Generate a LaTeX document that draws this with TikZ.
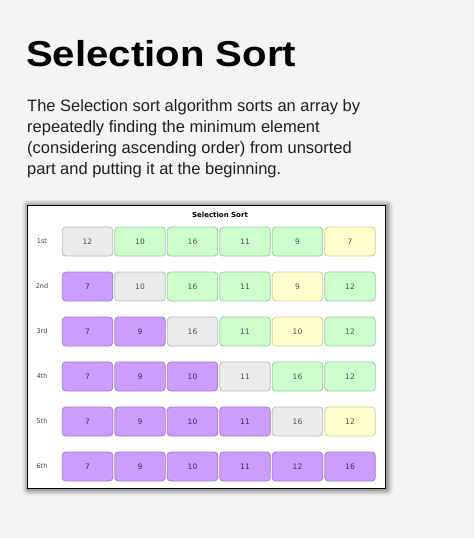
\documentclass[tikz,border=0pt]{standalone}
\usepackage{fontspec}
\setmainfont{Liberation Sans}
\newfontfamily\cellfont{DejaVu Sans}
\usetikzlibrary{shadows}
\definecolor{bgc}{HTML}{F4F4F4}
\definecolor{grayf}{HTML}{EBEBEB}
\definecolor{grayd}{HTML}{B4BCBC}
\definecolor{greenf}{HTML}{CCFFCC}
\definecolor{greend}{HTML}{9CC8A4}
\definecolor{yellf}{HTML}{FFFFCC}
\definecolor{yelld}{HTML}{CFCFA4}
\definecolor{purpf}{HTML}{CC9CFF}
\definecolor{purpd}{HTML}{A07CCC}
\definecolor{celltext}{HTML}{505050}
\tikzset{
  cellbox/.style={rounded corners=3.5pt, minimum width=50.5pt, minimum height=29pt, inner sep=0pt, line width=0.8pt, font=\cellfont\fontsize{7.5}{8}\selectfont, text=celltext},
  cg/.style={cellbox, fill=grayf, draw=grayd},
  cG/.style={cellbox, fill=greenf, draw=greend},
  cY/.style={cellbox, fill=yellf, draw=yelld},
  cP/.style={cellbox, fill=purpf, draw=purpd, text=black!65!purpd},
  rowlab/.style={font=\cellfont\fontsize{6.5}{8}\selectfont, text=black!75},
}
\begin{document}
\begin{tikzpicture}[x=1pt,y=-1pt]
\useasboundingbox (0,0) rectangle (474,538);
\fill[bgc] (0,0) rectangle (474,538);
\node[anchor=base west, inner sep=0pt, font=\bfseries\fontsize{36}{40}\selectfont] (title) at (26,66) {\scalebox{1.115}[1]{Selection Sort}};
\node[anchor=north west, inner sep=0pt, align=left, font=\fontsize{16.5}{21}\selectfont, text=black!88] (para) at (27,99)
 {The Selection sort algorithm sorts an array by\\repeatedly finding the minimum element\\(considering ascending order) from unsorted\\part and putting it at the beginning.};
\foreach \k/\op in {6/0.05,4.5/0.07,3/0.1,1.5/0.15}
  \fill[black, opacity=\op, rounded corners=\k pt] ({27+1-\k},{204.5+1-\k}) rectangle ({385+2+\k},{487.5+2+\k});
\node[draw=black, line width=1.4pt, fill=white, minimum width=358pt, minimum height=283pt, inner sep=0pt, anchor=north west] (frame) at (27,204.5) {};
\node[font=\cellfont\bfseries\fontsize{7}{8}\selectfont] (ftitle) at (220,215) {Selection Sort};
\foreach \r/\lab in {1/1st,2/2nd,3/3rd,4/4th,5/5th,6/6th}
  \node[rowlab] (lab\r) at (42,{241.5+(\r-1)*45}) {\lab};
\foreach \st/\v [count=\c] in {cg/12,cG/10,cG/16,cG/11,cG/9,cY/7}
  \node[\st] (c1-\c) at ({87.5+(\c-1)*52.5},241.5) {\v};
\foreach \st/\v [count=\c] in {cP/7,cg/10,cG/16,cG/11,cY/9,cG/12}
  \node[\st] (c2-\c) at ({87.5+(\c-1)*52.5},286.5) {\v};
\foreach \st/\v [count=\c] in {cP/7,cP/9,cg/16,cG/11,cY/10,cG/12}
  \node[\st] (c3-\c) at ({87.5+(\c-1)*52.5},331.5) {\v};
\foreach \st/\v [count=\c] in {cP/7,cP/9,cP/10,cg/11,cG/16,cG/12}
  \node[\st] (c4-\c) at ({87.5+(\c-1)*52.5},376.5) {\v};
\foreach \st/\v [count=\c] in {cP/7,cP/9,cP/10,cP/11,cg/16,cY/12}
  \node[\st] (c5-\c) at ({87.5+(\c-1)*52.5},421.5) {\v};
\foreach \st/\v [count=\c] in {cP/7,cP/9,cP/10,cP/11,cP/12,cP/16}
  \node[\st] (c6-\c) at ({87.5+(\c-1)*52.5},466.5) {\v};
\end{tikzpicture}
\end{document}
